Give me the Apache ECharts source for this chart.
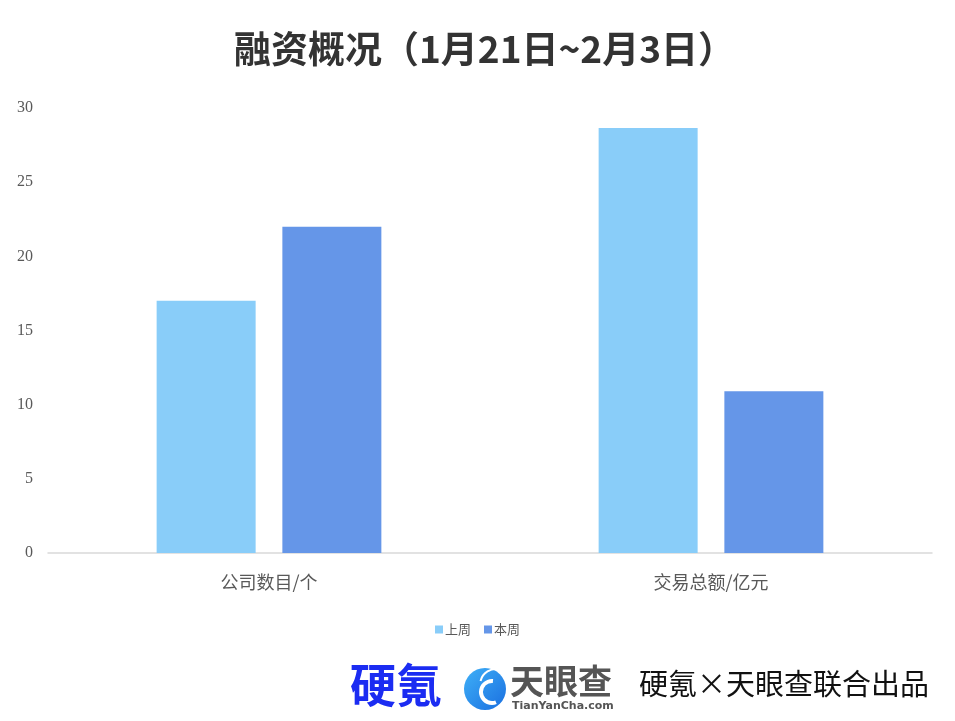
<!DOCTYPE html>
<html><head><meta charset="utf-8">
<script src="https://cdn.jsdelivr.net/npm/echarts@6/dist/echarts.min.js"></script>
<style>html,body{margin:0;padding:0;background:#fff}#c{width:955px;height:721px}</style>
</head><body><div id="c"></div>
<script>
const categories = ['公司数目/个', '交易总额/亿元'];
const lastWeek = [17, 28.66];
const thisWeek = [22, 10.9];
const seriesNames = ['上周', '本周'];
const yTicks = [0, 5, 10, 15, 20, 25, 30];

const chart = echarts.init(document.getElementById('c'));
const F = '"Noto Sans CJK SC", "Noto Sans", sans-serif';
chart.setOption({
  backgroundColor: '#fff',
  animation: false,
  title: {
    text: '融资概况（1月21日~2月3日）',
    left: 229, top: 25,
    textStyle: { fontFamily: F, fontSize: 37, fontWeight: 'bold', color: '#333333' }
  },
  legend: {
    data: seriesNames,
    left: 'center', top: 618,
    itemWidth: 8, itemHeight: 8, itemGap: 13,
    icon: 'rect',
    textStyle: { fontFamily: F, fontSize: 13, color: '#595959', padding: [0, 0, 0, -3] }
  },
  grid: { left: 48, right: 23, top: 108, bottom: 168 },
  xAxis: {
    type: 'category', data: categories,
    axisLine: { lineStyle: { color: '#d9d9d9', width: 1.5 } },
    axisTick: { show: false },
    axisLabel: { fontFamily: F, fontSize: 18, color: '#595959', margin: 20 }
  },
  yAxis: {
    type: 'value', min: yTicks[0], max: yTicks[yTicks.length - 1], interval: 5,
    axisLine: { show: false }, axisTick: { show: false },
    splitLine: { show: false },
    axisLabel: { fontFamily: '"Liberation Serif", serif', fontSize: 16, color: '#595959', margin: 15 }
  },
  series: [
    { name: seriesNames[0], type: 'bar', data: lastWeek, barWidth: 99, barGap: '27%',
      itemStyle: { color: '#89cdf9' } },
    { name: seriesNames[1], type: 'bar', data: thisWeek, barWidth: 99,
      itemStyle: { color: '#6596e8' } }
  ],
  graphic: [
    { type: 'text', left: 350, top: 662,
      style: { text: '硬氪', font: 'bold 46px ' + F, fill: '#1b2cf2' } },
    { type: 'circle', shape: { cx: 485, cy: 689, r: 21 },
      style: { fill: new echarts.graphic.LinearGradient(0, 0, 1, 1, [
        { offset: 0, color: '#3fb0f7' }, { offset: 1, color: '#1a6fe0' }]) } },
    { type: 'arc', shape: { cx: 492, cy: 692, r: 11, startAngle: 1.2, endAngle: 4.8 },
      style: { stroke: '#fff', lineWidth: 4, fill: null } },
    { type: 'arc', shape: { cx: 496, cy: 685, r: 16, startAngle: 3.4, endAngle: 4.9 },
      style: { stroke: '#fff', lineWidth: 2, fill: null } },
    { type: 'text', left: 510, top: 664,
      style: { text: '天眼查', font: 'bold 34px ' + F, fill: '#555555' } },
    { type: 'text', left: 512, top: 701,
      style: { text: 'TianYanCha.com', font: 'bold 11px "DejaVu Sans", sans-serif', fill: '#555555' } },
    { type: 'text', left: 639, top: 669,
      style: { text: '硬氪×天眼查联合出品', font: '29px ' + F, fill: '#111111' } }
  ]
});
</script></body></html>
